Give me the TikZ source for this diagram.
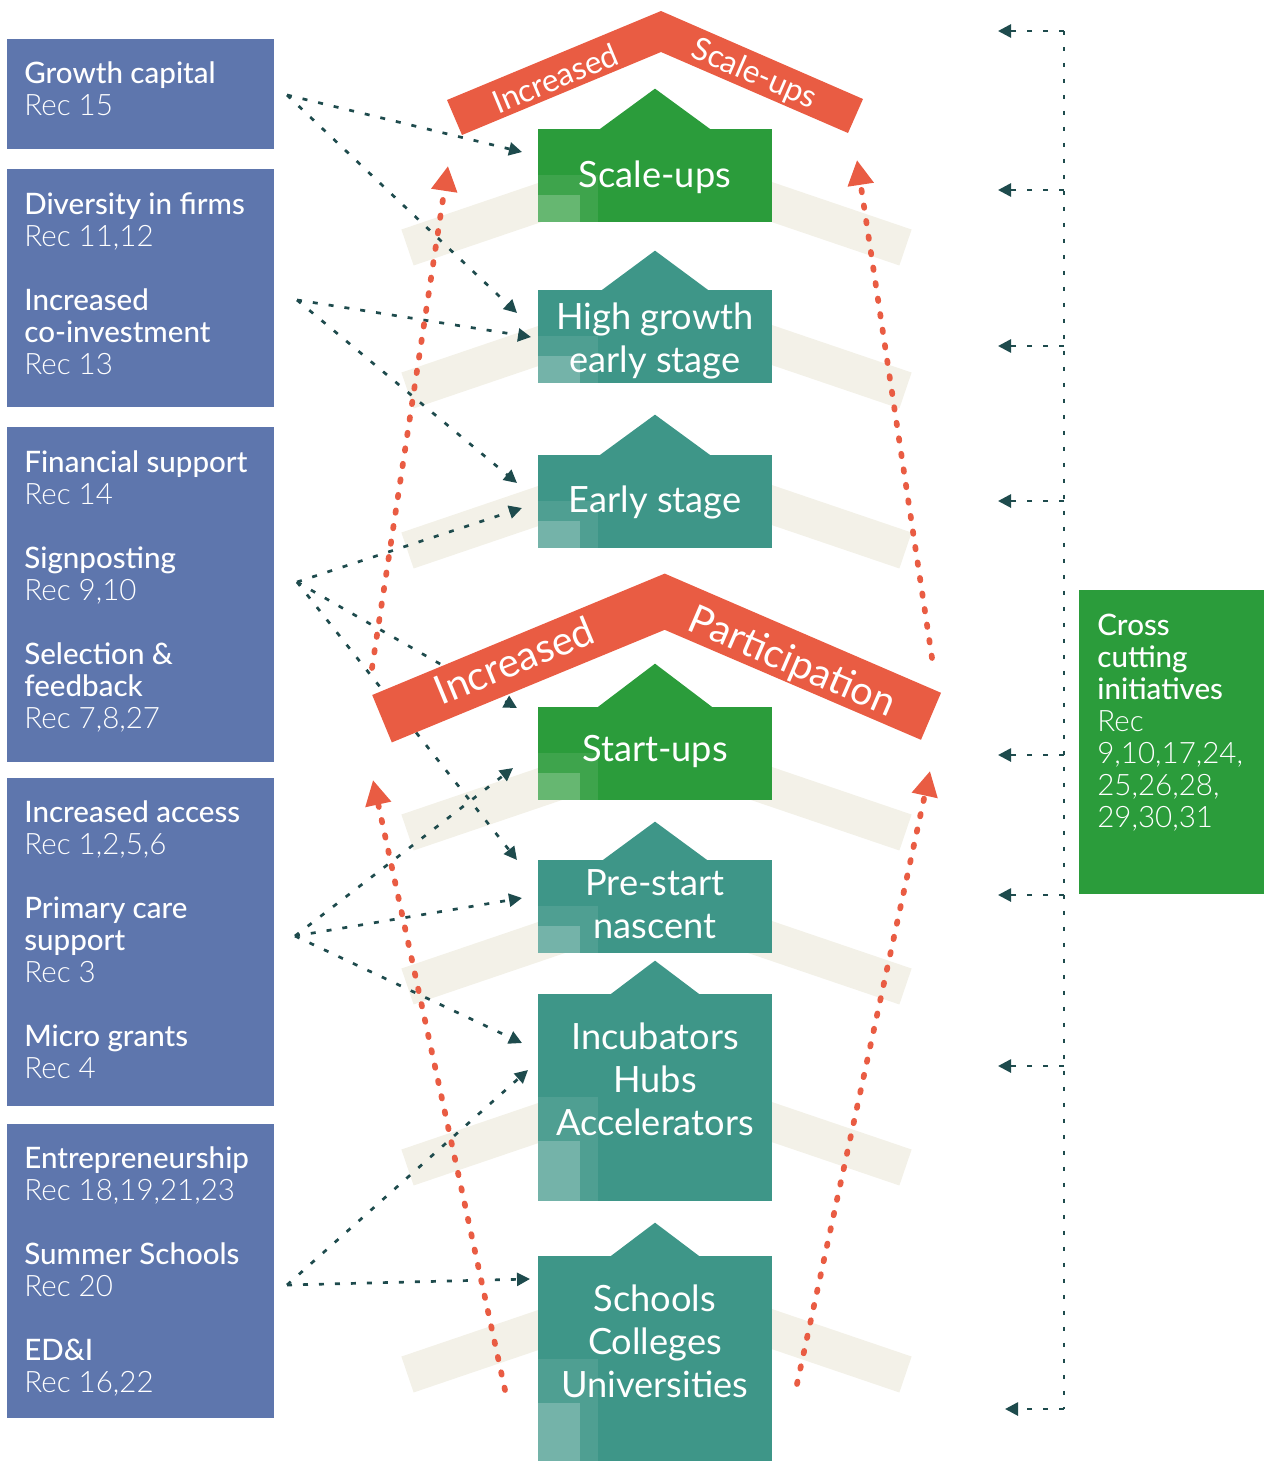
\documentclass[tikz,border=0pt]{standalone}
\usepackage{fontspec}
\setmainfont{Lato}
\IfFontExistsTF{Lato Medium}{\newfontfamily\headfont{Lato Medium}}{\newfontfamily\headfont{Lato}}
\IfFontExistsTF{Lato Light}{\newfontfamily\recfont{Lato Light}}{\newfontfamily\recfont{Lato}}
\usetikzlibrary{arrows.meta}

\definecolor{recblue}{HTML}{5E76AD}
\definecolor{stagegreen}{HTML}{2B9C3B}
\definecolor{stageteal}{HTML}{3E9688}
\definecolor{bannerred}{HTML}{E95C43}
\definecolor{bandbeige}{HTML}{F3F1E8}
\definecolor{flowdark}{HTML}{1E4B4D}

\begin{document}
\begin{tikzpicture}[
    x=0.02cm, y=-0.02cm,
    recbox/.style={rectangle, fill=recblue, anchor=north west, minimum width=5.34cm, inner sep=0},
    rectext/.style={anchor=base west, align=left, inner sep=0, text=white, font=\recfont\fontsize{16.8pt}{18.2pt}\selectfont},
    stagebox/.style={rectangle, minimum width=4.68cm, minimum height=1.86cm, inner sep=0},
    tallbox/.style={stagebox, minimum height=4.14cm},
    stagetext/.style={anchor=base, align=center, inner sep=0, text=white, font=\fontsize{20.6pt}{24.2pt}\selectfont},
    bannertext/.style={inner sep=0, text depth=0pt, text=white},
    shadeA/.style={white, opacity=0.09},
    shadeB/.style={white, opacity=0.21},
    band/.style={draw=bandbeige, line width=0.76cm},
    flow/.style={flowdark, line width=0.054cm, dash pattern=on 0.1cm off 0.22cm, -{Triangle[length=0.26cm, width=0.26cm]}},
    rise/.style={bannerred, line width=0.114cm, line cap=round, dash pattern=on 0.05cm off 0.264cm, -{Triangle[length=0.5cm, width=0.5cm]}}
]
\useasboundingbox (0,0) rectangle (1264,1461);

% Beige bands behind the stages
\draw[band] (407.5,247.5) -- (656.5,162.8) -- (905.5,247.5);
\draw[band] (407.5,390.5) -- (656.5,305.8) -- (905.5,390.5);
\draw[band] (407.5,550.5) -- (656.5,465.8) -- (905.5,550.5);
\draw[band] (407.5,832.5) -- (656.5,747.8) -- (905.5,832.5);
\draw[band] (407.5,986.5) -- (656.5,901.8) -- (905.5,986.5);
\draw[band] (407.5,1167.5) -- (656.5,1082.8) -- (905.5,1167.5);
\draw[band] (407.5,1374.5) -- (656.5,1289.8) -- (905.5,1374.5);

% Stages
\node[stagebox, fill=stagegreen] (scale) at (655,175.5) {};
\fill[stagegreen] (scale.north) ++(-56,1) -- ++(56,-41) -- ++(56,41) -- cycle;
\fill[shadeA] (scale.south west) rectangle ++(60,-47);
\fill[shadeB] (scale.south west) rectangle ++(42,-27);

\node[stagebox, fill=stageteal] (high) at (655,336.5) {};
\fill[stageteal] (high.north) ++(-54,1) -- ++(54,-40) -- ++(54,40) -- cycle;
\fill[shadeA] (high.south west) rectangle ++(60,-47);
\fill[shadeB] (high.south west) rectangle ++(42,-27);

\node[stagebox, fill=stageteal] (early) at (655,501.5) {};
\fill[stageteal] (early.north) ++(-56,1) -- ++(56,-41) -- ++(56,41) -- cycle;
\fill[shadeA] (early.south west) rectangle ++(60,-47);
\fill[shadeB] (early.south west) rectangle ++(42,-27);

\node[stagebox, fill=stagegreen] (start) at (655,753.5) {};
\fill[stagegreen] (start.north) ++(-58,1) -- ++(58,-44) -- ++(58,44) -- cycle;
\fill[shadeA] (start.south west) rectangle ++(60,-47);
\fill[shadeB] (start.south west) rectangle ++(42,-27);

\node[stagebox, fill=stageteal] (prestart) at (655,906.5) {};
\fill[stageteal] (prestart.north) ++(-53,1) -- ++(53,-39) -- ++(53,39) -- cycle;
\fill[shadeA] (prestart.south west) rectangle ++(60,-47);
\fill[shadeB] (prestart.south west) rectangle ++(42,-27);

\node[tallbox, fill=stageteal] (incub) at (655,1097.5) {};
\fill[stageteal] (incub.north) ++(-45,1) -- ++(45,-34) -- ++(45,34) -- cycle;
\fill[shadeA] (incub.south west) rectangle ++(60,-104);
\fill[shadeB] (incub.south west) rectangle ++(42,-60);

\node[tallbox, fill=stageteal] (schools) at (655,1359.5) {};
\fill[stageteal] (schools.north) ++(-45,1) -- ++(45,-34) -- ++(45,34) -- cycle;
\fill[shadeA] (schools.south west) rectangle ++(60,-104);
\fill[shadeB] (schools.south west) rectangle ++(42,-60);

% (a multi-line node sits on the baseline of its last line)
\node[stagetext] (scale-t) at (655,187) {Scale-ups};
\node[stagetext] (high-t) at (655,372) {High growth\\early stage};
\node[stagetext] (early-t) at (655,512) {Early stage};
\node[stagetext] (start-t) at (655,761) {Start-ups};
\node[stagetext] (prestart-t) at (655,938) {Pre-start\\nascent};
\node[stagetext] (incub-t) at (655,1135) {Incubators\\Hubs\\Accelerators};
\node[stagetext] (schools-t) at (655,1397) {Schools\\Colleges\\Universities};

% Recommendation boxes
\node[recbox, minimum height=2.2cm] (capital) at (7,39) {};
\node[rectext] (capital-t) at (24,115) {{\headfont Growth capital}\\Rec 15};

\node[recbox, minimum height=4.76cm] (diversity) at (7,169) {};
\node[rectext] (diversity-t) at (24,374) {{\headfont Diversity in firms}\\Rec 11,12\\[18.2pt]{\headfont Increased}\\{\headfont co-investment}\\Rec 13};

\node[recbox, minimum height=6.7cm] (finance) at (7,427) {};
\node[rectext] (finance-t) at (24,728) {{\headfont Financial support}\\Rec 14\\[18.2pt]{\headfont Signposting}\\Rec 9,10\\[18.2pt]{\headfont Selection \&}\\{\headfont feedback}\\Rec 7,8,27};

\node[recbox, minimum height=6.56cm] (access) at (7,778) {};
\node[rectext] (access-t) at (24,1078) {{\headfont Increased access}\\Rec 1,2,5,6\\[18.2pt]{\headfont Primary care}\\{\headfont support}\\Rec 3\\[18.2pt]{\headfont Micro grants}\\Rec 4};

\node[recbox, minimum height=5.88cm] (entre) at (7,1124) {};
\node[rectext] (entre-t) at (24,1392) {{\headfont Entrepreneurship}\\Rec 18,19,21,23\\[18.2pt]{\headfont Summer Schools}\\Rec 20\\[18.2pt]{\headfont ED\&I}\\Rec 16,22};

% Cross cutting box
\node[recbox, fill=stagegreen, minimum width=3.7cm, minimum height=6.07cm] (cross) at (1079,590) {};
\node[rectext] (cross-t) at (1097,827) {{\headfont Cross}\\{\headfont cutting}\\{\headfont initiatives}\\Rec\\9,10,17,24,\\25,26,28,\\29,30,31};

% Arrow ends
\coordinate (capital-o) at (287,95);
\coordinate (diversity-o) at (297,300);
\coordinate (finance-o) at (297,582);
\coordinate (access-o) at (295,936);
\coordinate (entre-o) at (287,1285);
\coordinate (scale-in) at (522,152);
\coordinate (high-in1) at (517,313);
\coordinate (high-in2) at (531,337);
\coordinate (early-in1) at (517,483);
\coordinate (early-in2) at (522,508);
\coordinate (start-in1) at (517,708);
\coordinate (start-in2) at (513,768);
\coordinate (prestart-in1) at (517,860);
\coordinate (prestart-in2) at (522,898);
\coordinate (incub-in1) at (522,1043);
\coordinate (incub-in2) at (528,1070);
\coordinate (schools-in) at (530,1279);

% Recommendations to stages
\draw[flow] (capital-o) -- (scale-in);
\draw[flow] (capital-o) -- (high-in1);
\draw[flow] (diversity-o) -- (high-in2);
\draw[flow] (diversity-o) -- (early-in1);
\draw[flow] (finance-o) -- (early-in2);
\draw[flow] (finance-o) -- (start-in1);
\draw[flow] (finance-o) -- (prestart-in1);
\draw[flow] (access-o) -- (start-in2);
\draw[flow] (access-o) -- (prestart-in2);
\draw[flow] (access-o) -- (incub-in1);
\draw[flow] (entre-o) -- (incub-in2);
\draw[flow] (entre-o) -- (schools-in);

% Red progression arrows
\coordinate (rise-l1) at (372,668);
\coordinate (rise-l2) at (448,166);
\coordinate (rise-r1) at (932,658);
\coordinate (rise-r2) at (857,160);
\coordinate (rise-l3) at (505,1390);
\coordinate (rise-l4) at (373,780);
\coordinate (rise-r3) at (797,1384);
\coordinate (rise-r4) at (930,771);
\draw[rise] (rise-l1) -- (rise-l2);
\draw[rise] (rise-r1) -- (rise-r2);
\draw[rise] (rise-l3) -- (rise-l4);
\draw[rise] (rise-r3) -- (rise-r4);

% Banners
\fill[bannerred] (447,100) -- (661,11) -- (863,99) -- (848,133) -- (661,52) -- (462,135) -- cycle;
\node[bannertext, rotate=22.6, font=\fontsize{18pt}{18pt}\selectfont] (top-l) at (555,78) {Increased};
\node[bannertext, rotate=-23.5, font=\fontsize{18pt}{18pt}\selectfont] (top-r) at (755,72) {Scale-ups};

\fill[bannerred] (372.2,695) -- (664.7,573.6) -- (941,692.8) -- (921,739.8) -- (664.7,629.8) -- (391.8,742.4) -- cycle;
\node[bannertext, rotate=22.5, font=\fontsize{22.8pt}{22.8pt}\selectfont] (mid-l) at (514,660) {Increased};
\node[bannertext, rotate=-23.3, font=\fontsize{22.6pt}{22.6pt}\selectfont] (mid-r) at (793,660) {Participation};

% Cross cutting bracket
\coordinate (cc-a) at (1064,31);
\coordinate (cc-b) at (1064,190);
\coordinate (cc-c) at (1064,346);
\coordinate (cc-d) at (1064,501);
\coordinate (cc-e) at (1064,755);
\coordinate (cc-f) at (1064,895);
\coordinate (cc-g) at (1064,1066);
\coordinate (cc-h) at (1064,1409);
\coordinate (tip-a) at (998,31);
\coordinate (tip-b) at (998,190);
\coordinate (tip-c) at (998,346);
\coordinate (tip-d) at (998,501);
\coordinate (tip-e) at (998,755);
\coordinate (tip-f) at (998,895);
\coordinate (tip-g) at (998,1066);
\coordinate (tip-h) at (1005,1409);
\draw[flowdark, line width=0.054cm, dash pattern=on 0.08cm off 0.24cm] (cc-a) -- (cc-h);
\draw[flow] (cc-a) -- (tip-a);
\draw[flow] (cc-b) -- (tip-b);
\draw[flow] (cc-c) -- (tip-c);
\draw[flow] (cc-d) -- (tip-d);
\draw[flow] (cc-e) -- (tip-e);
\draw[flow] (cc-f) -- (tip-f);
\draw[flow] (cc-g) -- (tip-g);
\draw[flow] (cc-h) -- (tip-h);

\end{tikzpicture}
\end{document}
